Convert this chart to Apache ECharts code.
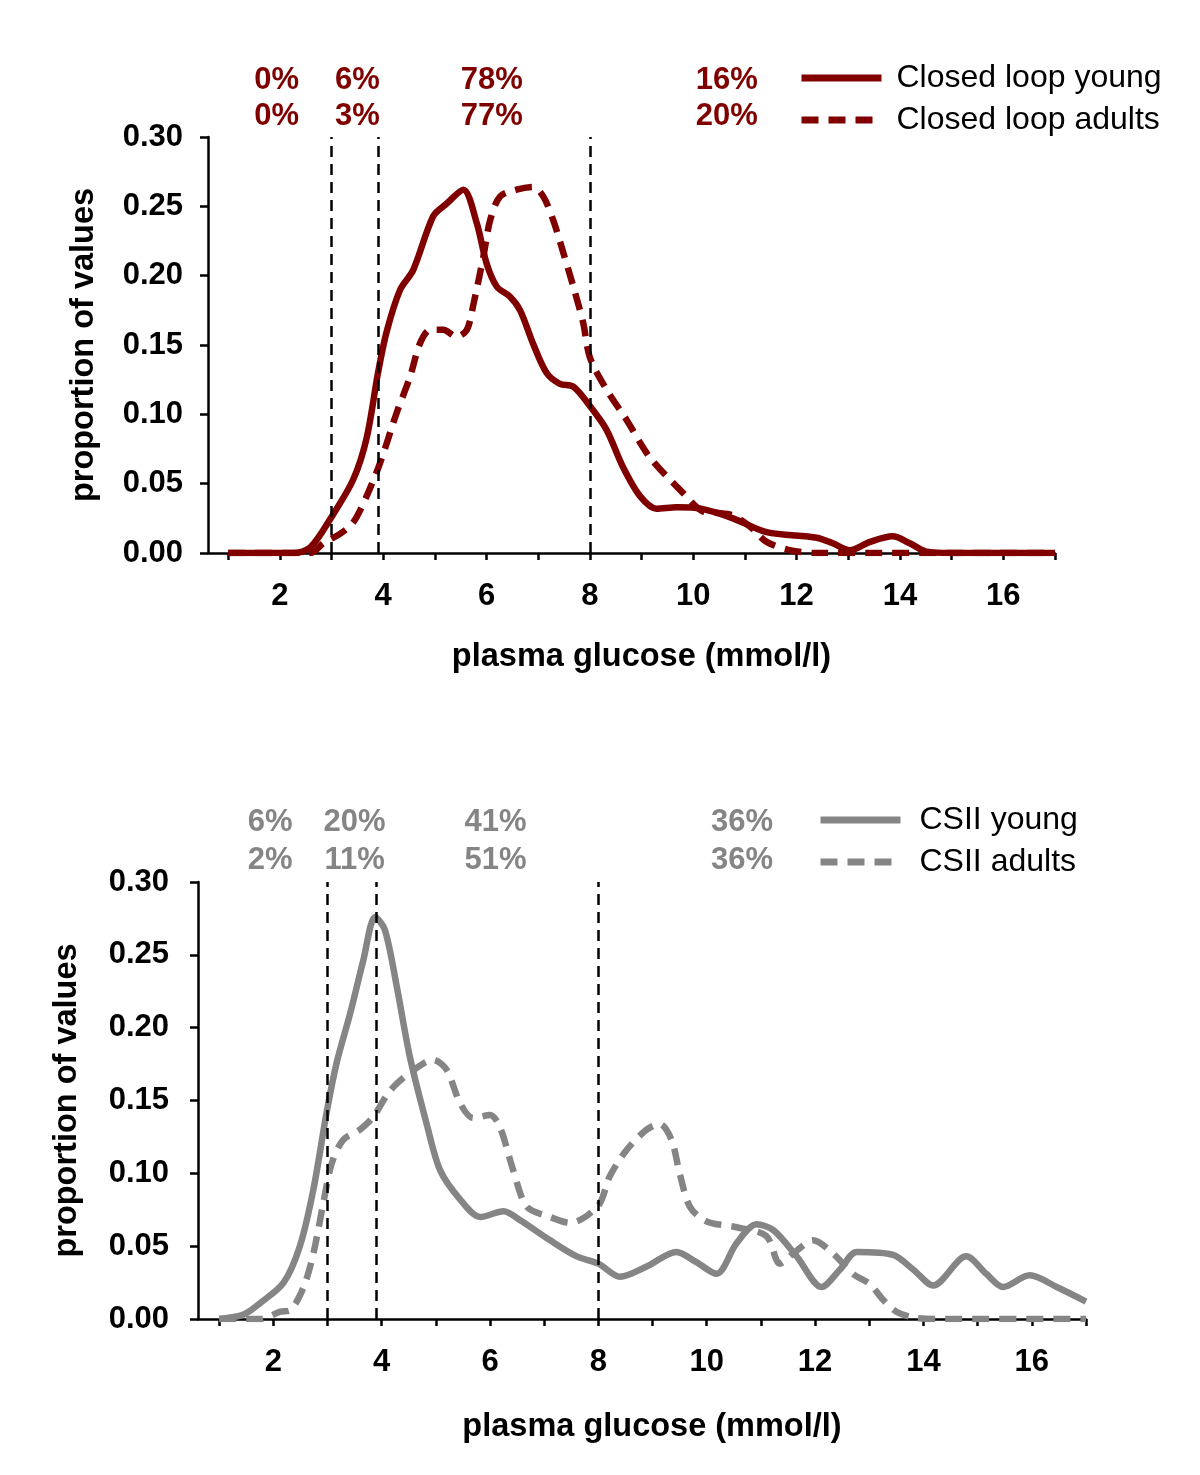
<!DOCTYPE html>
<html><head><meta charset="utf-8">
<script src="https://cdn.jsdelivr.net/npm/echarts@6/dist/echarts.min.js"></script>
<style>html,body{margin:0;padding:0;background:#fff}#c{width:1200px;height:1475px}</style>
</head><body><div id="c"></div>
<script>
// ---------- data ----------
const clYoungX = [1, 2.26, 2.59, 3.0, 3.42, 3.68, 3.9, 4.07, 4.33, 4.58, 4.97, 5.23, 5.55, 5.81, 6.0, 6.2, 6.45, 6.65, 6.9, 7.16, 7.42, 7.68, 8.0, 8.32, 8.64, 8.97, 9.29, 9.68, 10.15, 10.77, 11.42, 12.39, 12.7, 13.03, 13.42, 13.86, 14.19, 14.51, 15, 17];
const clYoungY = [0, 0, 0.004, 0.026, 0.053, 0.083, 0.130, 0.160, 0.190, 0.204, 0.243, 0.252, 0.262, 0.238, 0.209, 0.192, 0.185, 0.175, 0.151, 0.130, 0.122, 0.120, 0.106, 0.089, 0.062, 0.041, 0.032, 0.033, 0.032, 0.025, 0.015, 0.011, 0.007, 0.002, 0.008, 0.012, 0.007, 0.001, 0, 0];

const clAdultX = [1, 2.6, 2.84, 3.17, 3.42, 3.68, 3.94, 4.26, 4.52, 4.71, 4.91, 5.16, 5.42, 5.62, 5.75, 5.94, 6.07, 6.26, 6.58, 6.9, 7.1, 7.29, 7.49, 7.68, 7.87, 8.0, 8.32, 8.71, 9.16, 9.81, 10.19, 10.45, 10.77, 11.1, 11.42, 11.87, 12.39, 17];
const clAdultY = [0, 0, 0.007, 0.014, 0.022, 0.041, 0.065, 0.101, 0.127, 0.151, 0.161, 0.161, 0.156, 0.161, 0.180, 0.214, 0.240, 0.257, 0.262, 0.264, 0.257, 0.240, 0.216, 0.192, 0.166, 0.141, 0.118, 0.096, 0.069, 0.043, 0.030, 0.029, 0.027, 0.019, 0.008, 0.002, 0, 0];

const csYoungX = [1, 1.45, 1.76, 2.19, 2.49, 2.74, 2.99, 3.17, 3.42, 3.66, 3.88, 4.06, 4.28, 4.52, 4.83, 5.08, 5.45, 5.82, 6.25, 6.55, 7.11, 7.6, 8.0, 8.40, 8.89, 9.44, 9.81, 10.18, 10.55, 10.92, 11.23, 11.66, 12.12, 12.46, 12.77, 13.44, 13.81, 14.18, 14.79, 15.16, 15.47, 15.96, 16.46, 17];
const csYoungY = [0, 0.003, 0.011, 0.025, 0.050, 0.089, 0.143, 0.176, 0.210, 0.246, 0.276, 0.267, 0.228, 0.180, 0.134, 0.102, 0.082, 0.070, 0.074, 0.068, 0.054, 0.043, 0.038, 0.029, 0.036, 0.046, 0.039, 0.031, 0.052, 0.065, 0.061, 0.043, 0.022, 0.034, 0.046, 0.044, 0.034, 0.023, 0.043, 0.031, 0.022, 0.030, 0.022, 0.012];

const csAdultX = [1, 1.76, 2.13, 2.31, 2.56, 2.74, 2.92, 3.08, 3.29, 3.60, 3.85, 4.16, 4.59, 4.95, 5.20, 5.45, 5.69, 6.0, 6.18, 6.43, 6.68, 7.11, 7.48, 8.0, 8.21, 8.52, 8.89, 9.13, 9.35, 9.50, 9.69, 10.0, 10.55, 11.1, 11.35, 11.6, 11.96, 12.33, 12.70, 13.01, 13.26, 13.5, 13.81, 14.2, 17];
const csAdultY = [0, 0, 0.005, 0.006, 0.022, 0.045, 0.079, 0.107, 0.123, 0.130, 0.139, 0.157, 0.171, 0.178, 0.171, 0.148, 0.138, 0.140, 0.132, 0.102, 0.077, 0.070, 0.066, 0.078, 0.098, 0.116, 0.130, 0.134, 0.123, 0.100, 0.077, 0.067, 0.063, 0.057, 0.038, 0.045, 0.054, 0.045, 0.031, 0.024, 0.013, 0.005, 0.001, 0, 0];

const thresholds = [3, 3.9, 8];
const clPctYoung = ['0%', '6%', '78%', '16%'];
const clPctAdult = ['0%', '3%', '77%', '20%'];
const csPctYoung = ['6%', '20%', '41%', '36%'];
const csPctAdult = ['2%', '11%', '51%', '36%'];
const xTickValues = [1,2,3,4,5,6,7,8,9,10,11,12,13,14,15,16,17];
const xLabelValues = [2,4,6,8,10,12,14,16];
const seriesNames = ['Closed loop young', 'Closed loop adults', 'CSII young', 'CSII adults'];

// ---------- layout (not data) ----------
const pctColX = [1.94, 3.5, 6.1, 10.65];
const pctRowY = [0.341, 0.315];
const FONT = '"Liberation Sans", Arial, sans-serif';
const RED = '#800000';
const GREY = '#858585';
const DASH = [17, 10];

function pairs(xs, ys) { return xs.map((x, i) => [x, ys[i]]); }

function xAxisCfg(idx, gap) {
  return {
    gridIndex: idx, type: 'value', min: 0.61, max: 17,
    name: 'plasma glucose (mmol/l)', nameLocation: 'middle', nameGap: gap,
    nameTextStyle: {fontFamily: FONT, fontSize: 32.5, fontWeight: 'bold', color: '#000', padding: [0, 0, 0, 20]},
    axisLine: {show: true, lineStyle: {color: '#000', width: 2.5}},
    axisTick: {show: true, length: 7, lineStyle: {color: '#000', width: 2.5}, customValues: xTickValues},
    axisLabel: {fontFamily: FONT, fontSize: 31, fontWeight: 'bold', color: '#000', margin: 28, customValues: xLabelValues},
    splitLine: {show: false}
  };
}
function yAxisCfg(idx, gap, margin) {
  return {
    gridIndex: idx, type: 'value', min: 0, max: 0.30, interval: 0.05,
    name: 'proportion of values', nameLocation: 'middle', nameGap: gap,
    nameTextStyle: {fontFamily: FONT, fontSize: 32.5, fontWeight: 'bold', color: '#000'},
    axisLine: {show: true, lineStyle: {color: '#000', width: 2.5}},
    axisTick: {show: true, length: 8, lineStyle: {color: '#000', width: 2.5}},
    axisLabel: {fontFamily: FONT, fontSize: 31, fontWeight: 'bold', color: '#000', margin: margin, formatter: v => v.toFixed(2)},
    splitLine: {show: false}
  };
}
function curve(name, idx, xs, ys, color, dashed) {
  return {
    name: name, type: 'line', xAxisIndex: idx, yAxisIndex: idx,
    data: pairs(xs, ys), smooth: 0.3, symbol: 'none', showSymbol: false,
    lineStyle: {color: color, width: 6.5, type: dashed ? DASH : 'solid', cap: 'butt'},
    itemStyle: {color: color}, z: 3
  };
}
function labelSeries(idx, row1, row2, color) {
  const d = [];
  row1.forEach((t, i) => d.push([pctColX[i], pctRowY[0], t]));
  row2.forEach((t, i) => d.push([pctColX[i], pctRowY[1], t]));
  return {
    type: 'scatter', xAxisIndex: idx, yAxisIndex: idx, data: d, clip: false,
    symbolSize: 0, itemStyle: {color: color, opacity: 1}, silent: true, z: 5,
    label: {show: true, position: 'inside', formatter: p => p.data[2], opacity: 1,
      textBorderWidth: 0, fontFamily: FONT, fontSize: 31, fontWeight: 'bold', color: color},
    markLine: {
      silent: true, symbol: 'none', animation: false,
      label: {show: false},
      lineStyle: {color: '#000', width: 2.5, type: [11, 7], opacity: 1},
      data: thresholds.map(t => ({xAxis: t}))
    }
  };
}
function legendCfg(names, left, top, pad) {
  return {
    data: names, orient: 'vertical', left: left, top: top,
    itemWidth: 80, itemHeight: 30, itemGap: 10, selectedMode: false,
    itemStyle: {opacity: 0},
    lineStyle: {width: 7, opacity: 1},
    textStyle: {fontFamily: FONT, fontSize: 32, lineHeight: 30, color: '#000', padding: [0, 0, 0, pad]}
  };
}

const chart = echarts.init(document.getElementById('c'), null, {renderer: 'canvas'});
chart.setOption({
  backgroundColor: '#fff',
  animation: false,
  grid: [
    {left: 208, width: 847, top: 137, height: 416},
    {left: 198, width: 888, top: 882, height: 437}
  ],
  xAxis: [xAxisCfg(0, 88), xAxisCfg(1, 92)],
  yAxis: [yAxisCfg(0, 107, 25), yAxisCfg(1, 114, 29)],
  legend: [
    legendCfg([seriesNames[0], seriesNames[1]], 793, 57, 10),
    legendCfg([seriesNames[2], seriesNames[3]], 812, 799, 14)
  ],
  series: [
    curve(seriesNames[0], 0, clYoungX, clYoungY, RED, false),
    curve(seriesNames[1], 0, clAdultX, clAdultY, RED, true),
    labelSeries(0, clPctYoung, clPctAdult, RED),
    curve(seriesNames[2], 1, csYoungX, csYoungY, GREY, false),
    curve(seriesNames[3], 1, csAdultX, csAdultY, GREY, true),
    labelSeries(1, csPctYoung, csPctAdult, GREY)
  ]
});
</script></body></html>
